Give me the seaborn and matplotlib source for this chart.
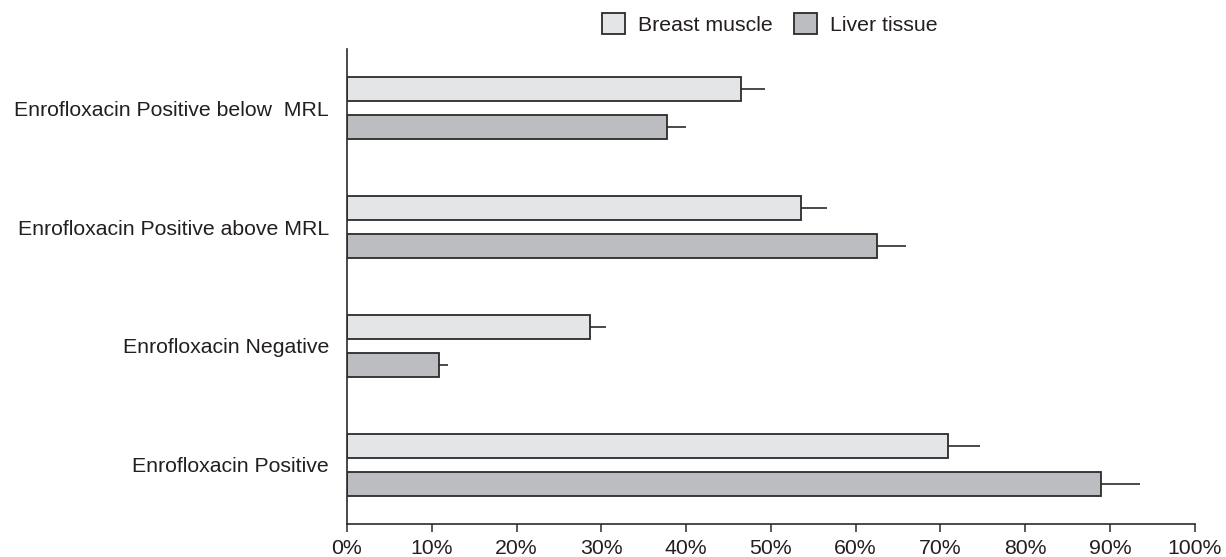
import numpy as np
import pandas as pd
import matplotlib
matplotlib.use("Agg")
import matplotlib.pyplot as plt
import seaborn as sns
from matplotlib.ticker import PercentFormatter

# ---- data ----
categories = ["Enrofloxacin Positive below  MRL",
              "Enrofloxacin Positive above MRL",
              "Enrofloxacin Negative",
              "Enrofloxacin Positive"]
series = ["Breast muscle", "Liver tissue"]
breast = [46.5, 53.6, 28.7, 70.9]
liver = [37.7, 62.5, 10.8, 88.9]
breast_err = [2.8, 3.0, 1.9, 3.8]
liver_err = [2.3, 3.4, 1.1, 4.7]
x_ticks = list(range(0, 101, 10))

sns.set_theme(style="white")
plt.rcParams['font.family'] = ['Liberation Sans', 'DejaVu Sans']
TXT = "#231f20"
EDGE = "#2b2b2b"

df = pd.DataFrame({
    "category": categories * 2,
    "tissue": [series[0]] * len(categories) + [series[1]] * len(categories),
    "value": breast + liver,
})
errs = {series[0]: breast_err, series[1]: liver_err}

fig = plt.figure(figsize=(12.26, 5.57), dpi=100)
ax = fig.add_axes([0.283, 0.0592, 0.6915, 0.853])

sns.barplot(data=df, y="category", x="value", hue="tissue",
            order=categories, hue_order=series,
            palette=["#e4e5e7", "#bcbdc0"], width=0.64, gap=0.375,
            edgecolor=EDGE, linewidth=1.3, errorbar=None, ax=ax, saturation=1)

# one-sided error bars (right side only)
for cont, s in zip(ax.containers, series):
    xs = [b.get_width() for b in cont]
    ys = [b.get_y() + b.get_height() / 2 for b in cont]
    e = errs[s]
    ax.errorbar(xs, ys, xerr=[np.zeros(len(e)), e], fmt='none',
                ecolor=EDGE, elinewidth=1.2, capsize=0, zorder=1)

ax.set_xlim(0, 100)
ax.set_ylim(3.5, -0.5)
ax.set_xticks(x_ticks)
ax.xaxis.set_major_formatter(PercentFormatter(decimals=0))
ax.set_xlabel("")
ax.set_ylabel("")
for sp in ["top", "right"]:
    ax.spines[sp].set_visible(False)
for sp in ["left", "bottom"]:
    ax.spines[sp].set_color(EDGE)
    ax.spines[sp].set_linewidth(1.2)
ax.tick_params(axis="x", direction="out", length=6, width=1.1, color=EDGE,
               labelsize=15.3, labelcolor=TXT, pad=5, bottom=True)
ax.tick_params(axis="y", length=0, labelsize=15.3, labelcolor=TXT, pad=13)

handles, labels = ax.get_legend_handles_labels()
ax.legend(handles, labels, loc="center", bbox_to_anchor=(0.628, 0.957),
          bbox_transform=fig.transFigure, ncol=2, frameon=False,
          handlelength=1.1, handleheight=1.1, columnspacing=1.0,
          handletextpad=0.6, fontsize=15.3, labelcolor=TXT)

fig.savefig("out.png", dpi=100)
